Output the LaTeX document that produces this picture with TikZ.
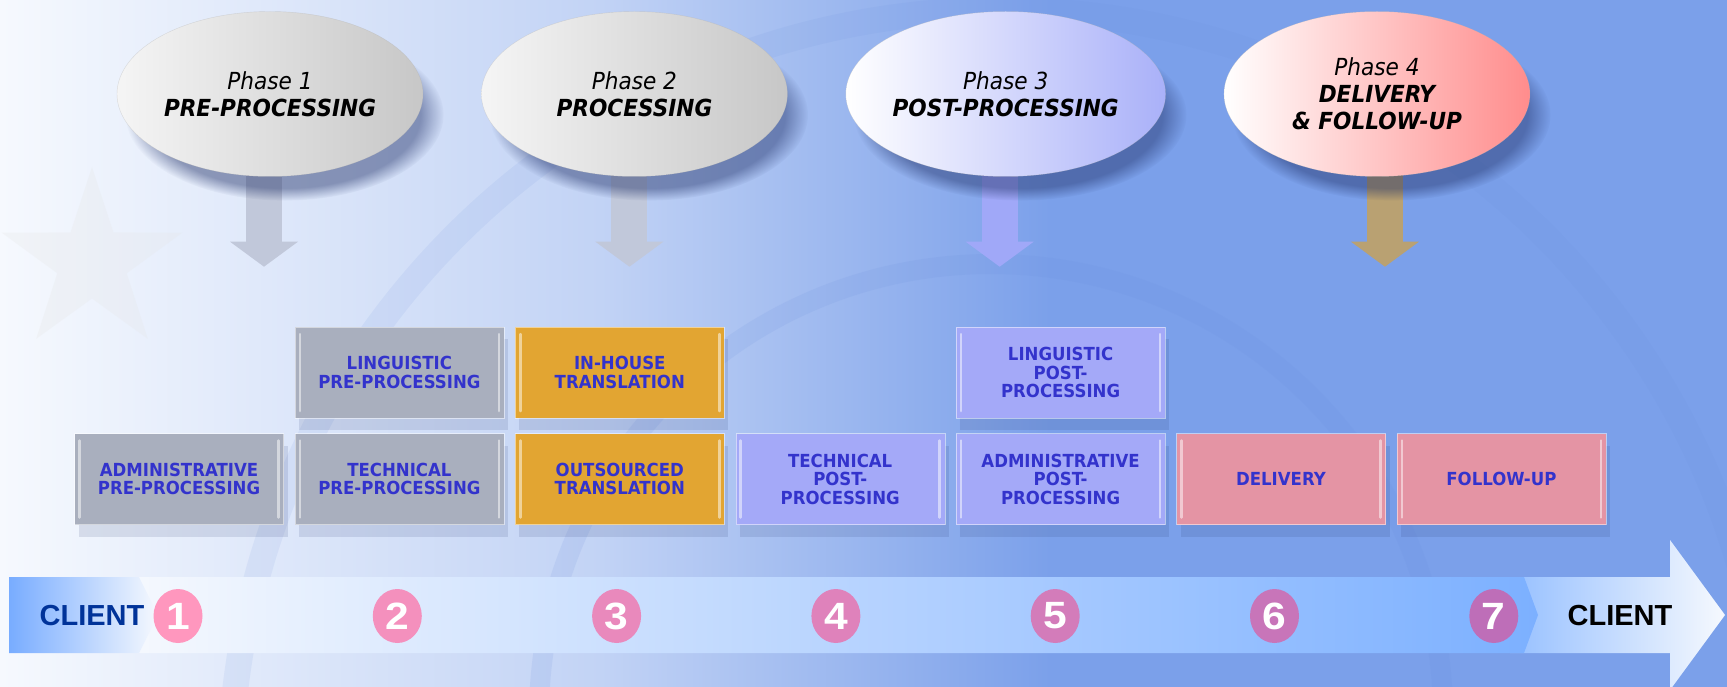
\documentclass[tikz,border=0pt]{standalone}
\usepackage{fontspec}
\setmainfont{DejaVu Sans}[FakeStretch=0.92]
\newfontfamily\clientfont{Liberation Sans}
\newfontfamily\digitfont{Liberation Sans}[FakeStretch=1.12]
\usetikzlibrary{positioning,arrows.meta,shapes.geometric,shadows,fadings,backgrounds}

\definecolor{bgL}{HTML}{F6F9FE}
\definecolor{bgM}{HTML}{C2D3F5}
\definecolor{bgR}{HTML}{7BA0EA}
\definecolor{ringblue}{HTML}{6A8EDC}
\definecolor{shadowblue}{HTML}{1E2E66}
\definecolor{boxtxt}{HTML}{3333CC}
\definecolor{pregray}{HTML}{A9AFBE}
\definecolor{transor}{HTML}{E2A532}
\definecolor{postlav}{HTML}{A4A9F8}
\definecolor{delpink}{HTML}{E494A4}
\definecolor{numA}{HTML}{FF97BE}
\definecolor{numB}{HTML}{BE6EB8}
\definecolor{clientblue}{HTML}{003399}
\definecolor{bandL}{HTML}{78ACFF}
\definecolor{bandM}{HTML}{C4D8FF}
\definecolor{bandR}{HTML}{7CB0FF}
\definecolor{arrgray}{HTML}{C1C8DA}
\definecolor{arrlav}{HTML}{A0A8F8}
\definecolor{arrtan}{HTML}{B9A172}

\pgfdeclarelayer{backdrop}
\pgfsetlayers{backdrop,background,main}

\begin{document}
\begin{tikzpicture}[x=1pt, y=-1pt,
  phase/.style={ellipse, minimum width=306pt, minimum height=165pt, inner sep=0pt,
                align=center, font=\fontsize{23.5}{27}\selectfont\itshape,
                draw=black!30, draw opacity=.4,
                circular drop shadow={shadow xshift=14pt, shadow yshift=-20pt,
                                      shadow scale=1.04, opacity=.45, fill=shadowblue}},
  task/.style={minimum width=209pt, minimum height=91pt, inner sep=2pt, align=center,
               text=boxtxt, font=\fontsize{18}{18.5}\selectfont\bfseries,
               draw=white, draw opacity=.5,
               drop shadow={shadow xshift=4pt, shadow yshift=-12pt, opacity=.12, fill=shadowblue},
               path picture={
                 \draw[white, opacity=.5, line width=2.5pt, line cap=round]
                   ([shift={(5pt,-7pt)}]path picture bounding box.north west)
                     -- ([shift={(5pt,7pt)}]path picture bounding box.south west)
                   ([shift={(-5pt,-7pt)}]path picture bounding box.north east)
                     -- ([shift={(-5pt,7pt)}]path picture bounding box.south east);}},
  prebox/.style={task, fill=pregray},
  transbox/.style={task, fill=transor},
  postbox/.style={task, fill=postlav},
  delbox/.style={task, fill=delpink},
  downarr/.style={line width=36pt, -{Triangle[width=68pt, length=25pt, line width=0pt 0]}},
  numdot/.style={ellipse, minimum width=49pt, minimum height=54pt, inner sep=0pt,
                 text=white, font=\digitfont\bfseries\fontsize{38}{38}\selectfont},
  client/.style={font=\clientfont\bfseries\fontsize{29}{29}\selectfont}]
\useasboundingbox (0,0) rectangle (1727,687);
% backdrop: gradient, rings and star
\begin{pgfonlayer}{backdrop}
  \shade[left color=bgL, right color=bgM] (0,0) rectangle (601,687);
  \shade[left color=bgM, right color=bgR] (600,0) rectangle (1051,687);
  \fill[bgR] (1050,0) rectangle (1727,687);
  \begin{scope}
    \clip (0,0) rectangle (1727,687);
    \draw[ringblue, opacity=.13, line width=20pt] (991,716) circle (452pt);
    \draw[ringblue, opacity=.1, line width=26pt] (1000,780) circle (770pt);
  \end{scope}
  \node[star, star points=5, star point ratio=2.6, minimum size=190pt,
        fill=black!10, opacity=.25] (bgstar) at (92,262) {};
\end{pgfonlayer}
% the four phases
\node[phase, left color=black!4, right color=black!22] (ph1) at (270,94)
  {Phase 1\\\textbf{PRE-PROCESSING}};
\node[phase, left color=black!4, right color=black!22, right=58pt of ph1] (ph2)
  {Phase 2\\\textbf{PROCESSING}};
\node[phase, left color=white, right color=arrlav!90!white, right=58pt of ph2] (ph3)
  {Phase 3\\\textbf{POST-PROCESSING}};
\node[phase, left color=white, right color=red!45, right=58pt of ph3] (ph4)
  {Phase 4\\\textbf{DELIVERY}\\\textbf{\& FOLLOW-UP}};
\coordinate (tip1) at ([xshift=-6pt, yshift=-90pt]ph1.south);
\coordinate (tip2) at ([xshift=-5pt, yshift=-90pt]ph2.south);
\coordinate (tip3) at ([xshift=-6pt, yshift=-90pt]ph3.south);
\coordinate (tip4) at ([xshift=8pt, yshift=-90pt]ph4.south);
\begin{pgfonlayer}{background}
  \draw[downarr, arrgray] ([xshift=-6pt]ph1.center) -- (tip1);
  \draw[downarr, arrgray] ([xshift=-5pt]ph2.center) -- (tip2);
  \draw[downarr, arrlav] ([xshift=-6pt]ph3.center) -- (tip3);
  \draw[downarr, arrtan] ([xshift=8pt]ph4.center) -- (tip4);
\end{pgfonlayer}
% task boxes
\node[prebox] (admpre) at (179,479) {ADMINISTRATIVE\\PRE-PROCESSING};
\node[prebox, right=11pt of admpre] (techpre) {TECHNICAL\\PRE-PROCESSING};
\node[prebox, above=15pt of techpre] (lingpre) {LINGUISTIC\\PRE-PROCESSING};
\node[transbox, right=11pt of techpre] (outtrans) {OUTSOURCED\\TRANSLATION};
\node[transbox, above=15pt of outtrans] (intrans) {IN-HOUSE\\TRANSLATION};
\node[postbox, right=11pt of outtrans] (techpost) {TECHNICAL\\POST-\\PROCESSING};
\node[postbox, right=11pt of techpost] (admpost) {ADMINISTRATIVE\\POST-\\PROCESSING};
\node[postbox, above=15pt of admpost] (lingpost) {LINGUISTIC\\POST-\\PROCESSING};
\node[delbox, right=11pt of admpost] (deliv) {DELIVERY};
\node[delbox, right=11pt of deliv] (follow) {FOLLOW-UP};
% timeline band
\shade[left color=bandR!80!white, right color=bgL]
  (1510,577) -- (1670,577) -- (1670,540) -- (1725,615) -- (1670,690)
  -- (1670,653) -- (1510,653) -- cycle;
\shade[left color=bgL, middle color=bandM, right color=bandR]
  (120,577) -- (1524,577) -- (1538,615) -- (1524,653) -- (120,653) -- cycle;
\shade[left color=bandL, right color=bgL]
  (9,577) -- (139,577) -- (158,615) -- (139,653) -- (9,653) -- cycle;
\node[client, text=clientblue] (clientL) at (92,616) {CLIENT};
\node[client, text=black] (clientR) at (1620,616) {CLIENT};
\foreach \i [evaluate=\i as \mixp using {int(100-(\i-1)*100/6)}] in {1,...,7}
  \node[numdot, fill=numA!\mixp!numB] (num\i) at ({178+219.3*(\i-1)},616) {\i};
\end{tikzpicture}
\end{document}
